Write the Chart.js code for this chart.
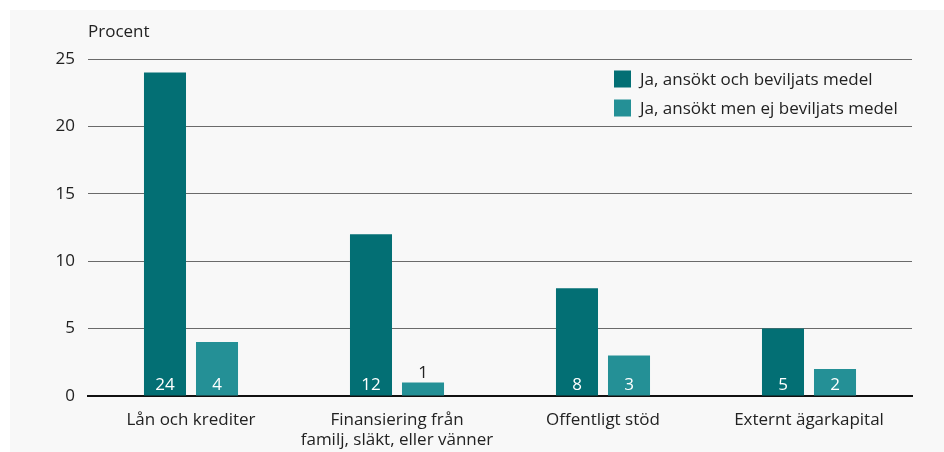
<!DOCTYPE html>
<html>
<head>
<meta charset="utf-8">
<script src="https://cdn.jsdelivr.net/npm/chart.js@4.4.1/dist/chart.umd.min.js"></script>
<style>
  html, body { margin: 0; padding: 0; background: #fff; }
  #wrap { width: 944px; height: 452px; }
</style>
</head>
<body>
<div id="wrap"><canvas id="chart" width="944" height="452"></canvas></div>
<script>
const kategorier = [
  "Lån och krediter",
  ["Finansiering från", "familj, släkt, eller vänner"],
  "Offentligt stöd",
  "Externt ägarkapital",
];
const beviljats = [24, 12, 8, 5];
const ejBeviljats = [4, 1, 3, 2];
const serieNamn = ["Ja, ansökt och beviljats medel", "Ja, ansökt men ej beviljats medel"];
const yTicks = [0, 5, 10, 15, 20, 25];

const FONT = "'Open Sans', sans-serif";
const colores = ["#036f74", "#249096"];

// fondo gris claro del panel
const fondo = {
  id: "fondo",
  beforeDraw(chart) {
    const ctx = chart.ctx;
    ctx.save();
    ctx.fillStyle = "#f8f8f8";
    ctx.fillRect(10, 10, chart.width - 10, chart.height - 10);
    ctx.restore();
  },
};

// etiquetas de valor dentro de las barras, leyenda y "Procent"
const extras = {
  id: "extras",
  afterDatasetsDraw(chart) {
    const ctx = chart.ctx;
    const yScale = chart.scales.y;
    ctx.save();
    ctx.font = "17px " + FONT;
    ctx.textAlign = "center";
    ctx.textBaseline = "alphabetic";
    chart.data.datasets.forEach((ds, di) => {
      chart.getDatasetMeta(di).data.forEach((bar, i) => {
        const v = ds.data[i];
        const base = yScale.getPixelForValue(0);
        if (base - bar.y > 22) {
          ctx.fillStyle = "#fff";
          ctx.fillText(String(v), bar.x, base - 6);
        } else {
          ctx.fillStyle = "#222";
          ctx.fillText(String(v), bar.x, bar.y - 5);
        }
      });
    });

    // leyenda
    ctx.textAlign = "left";
    ctx.textBaseline = "middle";
    serieNamn.forEach((n, i) => {
      const y = 79 + i * 29;
      ctx.fillStyle = colores[i];
      ctx.fillRect(614, y - 8.5, 17, 17);
      ctx.fillStyle = "#222";
      ctx.fillText(n, 640, y + 1);
    });

    ctx.fillText("Procent", 88, 32);
    ctx.restore();
  },
};

new Chart(document.getElementById("chart"), {
  type: "bar",
  data: {
    labels: kategorier,
    datasets: [
      { label: serieNamn[0], data: beviljats, backgroundColor: colores[0] },
      { label: serieNamn[1], data: ejBeviljats, backgroundColor: colores[1] },
    ],
  },
  options: {
    responsive: false,
    animation: false,
    devicePixelRatio: 1,
    layout: { padding: { left: 10, right: 32, top: 59, bottom: 0 } },
    categoryPercentage: 0.505,
    barPercentage: 0.808,
    plugins: { legend: { display: false }, tooltip: { enabled: false } },
    scales: {
      x: {
        grid: { display: false, drawTicks: false },
        border: { display: true, color: "#111", width: 2 },
        ticks: { color: "#222", font: { family: FONT, size: 17, lineHeight: 1.2 }, padding: 14, maxRotation: 0 },
        afterFit: (s) => { s.height = 56; },
      },
      y: {
        min: 0,
        max: 25,
        afterBuildTicks: (s) => { s.ticks = yTicks.map((v) => ({ value: v })); },
        grid: { color: "#6a6a6a", lineWidth: 1, drawTicks: false },
        border: { display: false },
        ticks: { color: "#222", font: { family: FONT, size: 17 }, padding: 13 },
        afterFit: (s) => { s.width = 78; },
      },
    },
  },
  plugins: [fondo, extras],
});
</script>
</body>
</html>
